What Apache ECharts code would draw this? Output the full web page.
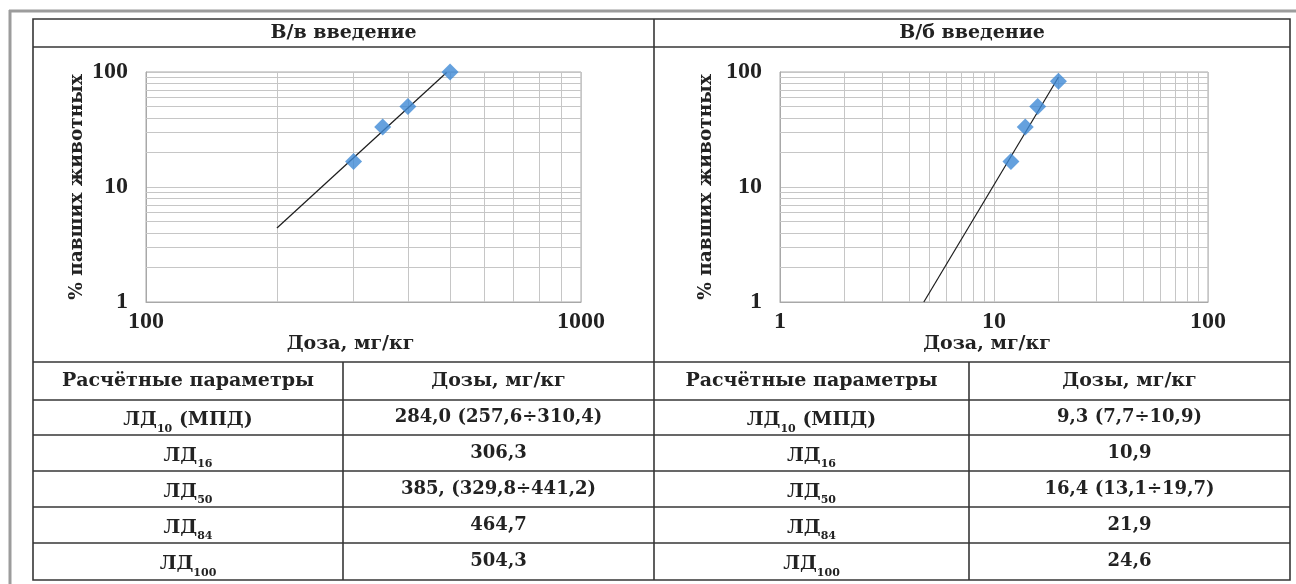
<!DOCTYPE html>
<html>
<head>
<meta charset="utf-8">
<script src="https://cdn.jsdelivr.net/npm/echarts@6/dist/echarts.min.js"></script>
<style>
html,body{margin:0;padding:0;background:#fff;}
#c{width:1296px;height:584px;}
</style>
</head>
<body>
<div id="c"></div>
<script>
// ---------------- DATA ----------------
const panelTitles = ['В/в введение', 'В/б введение'];
const yAxisName = '% павших животных';
const xAxisName = 'Доза, мг/кг';

// Intravenous (В/в)
const ivDose = [300, 350, 400, 500];
const ivDeath = [16.7, 33.3, 50, 100];
const ivTrendDose = [200, 491];
const ivTrendDeath = [4.4, 99];
const ivXRange = [100, 1000];
const ivXMinor = [200, 300, 400, 500, 600, 700, 800, 900];

// Intraperitoneal (В/б)
const ipDose = [12, 14, 16, 20];
const ipDeath = [16.7, 33.3, 50, 83.3];
const ipTrendDose = [4.7, 20];
const ipTrendDeath = [1, 90];
const ipXRange = [1, 100];
const ipXMinor = [2, 3, 4, 5, 6, 7, 8, 9, 20, 30, 40, 50, 60, 70, 80, 90];

const yRange = [1, 100];
const yMinor = [2, 3, 4, 5, 6, 7, 8, 9, 20, 30, 40, 50, 60, 70, 80, 90];

// Table
const tableHeaders = ['Расчётные параметры', 'Дозы, мг/кг'];
const paramBase = ['ЛД', 'ЛД', 'ЛД', 'ЛД', 'ЛД'];
const paramSub = ['10', '16', '50', '84', '100'];
const paramSuffix = [' (МПД)', '', '', '', ''];
const ivDoseTable = ['284,0 (257,6÷310,4)', '306,3', '385, (329,8÷441,2)', '464,7', '504,3'];
const ipDoseTable = ['9,3 (7,7÷10,9)', '10,9', '16,4 (13,1÷19,7)', '21,9', '24,6'];

// ---------------- LAYOUT / STYLE ----------------
const SERIF = '"DejaVu Serif", serif';
const TICKF = '"Liberation Serif", serif';
const TXT = '#222222';
const GRIDC = '#c6c6c6';
const LINEC = '#363636';

const grids = [
  {left: 146, top: 72, width: 435, height: 230},
  {left: 780, top: 72, width: 428, height: 230}
];
const nameGapsY = [59, 64];
const namePadX = [[0, 26, 0, 0], [0, 14, 0, 0]];

const T = {left: 33, top: 19, right: 1290, bottom: 580, mid: 654, titleBottom: 47};
const rowLines = [362, 400, 435, 471, 507, 543, 580];
const colDiv = [343, 969];

function pairs(xs, ys) { return xs.map((x, i) => [x, ys[i]]); }
function minorLines(xv, yv) {
  return xv.map(v => ({xAxis: v})).concat(yv.map(v => ({yAxis: v})));
}

function xAxisOpt(i, range) {
  return {
    gridIndex: i, type: 'log', logBase: 10, min: range[0], max: range[1],
    name: xAxisName, nameLocation: 'middle', nameGap: 24,
    nameTextStyle: {fontFamily: SERIF, fontWeight: 'bold', fontSize: 19, color: TXT, padding: namePadX[i]},
    axisLine: {show: true, lineStyle: {color: '#a8a8a8', width: 1}},
    axisTick: {show: false},
    axisLabel: {fontFamily: TICKF, fontWeight: 'bold', fontSize: 24, color: TXT, margin: 8,
                formatter: v => String(v)},
    splitLine: {show: true, lineStyle: {color: GRIDC, width: 1}}
  };
}
function yAxisOpt(i) {
  return {
    gridIndex: i, type: 'log', logBase: 10, min: yRange[0], max: yRange[1],
    name: yAxisName, nameLocation: 'middle', nameGap: nameGapsY[i],
    nameTextStyle: {fontFamily: SERIF, fontWeight: 'bold', fontSize: 18.5, color: TXT},
    axisLine: {show: true, lineStyle: {color: '#a8a8a8', width: 1}},
    axisTick: {show: false},
    axisLabel: {fontFamily: TICKF, fontWeight: 'bold', fontSize: 24, color: TXT, margin: 18,
                formatter: v => String(v)},
    splitLine: {show: true, lineStyle: {color: GRIDC, width: 1}}
  };
}
function seriesFor(i, dose, death, tDose, tDeath, xMinor) {
  return [
    {
      type: 'line', xAxisIndex: i, yAxisIndex: i, data: [], z: 1, silent: true,
      markLine: {
        silent: true, symbol: ['none', 'none'], z: 1, animation: false,
        label: {show: false},
        lineStyle: {color: GRIDC, width: 1, type: 'solid'},
        emphasis: {disabled: true},
        data: minorLines(xMinor, yMinor)
      }
    },
    {
      type: 'line', xAxisIndex: i, yAxisIndex: i, data: pairs(tDose, tDeath),
      showSymbol: false, symbol: 'none', z: 3, silent: true,
      lineStyle: {color: '#1c1c1c', width: 1.2}
    },
    {
      type: 'scatter', xAxisIndex: i, yAxisIndex: i, data: pairs(dose, death),
      symbol: 'diamond', symbolSize: 17, z: 4,
      itemStyle: {color: '#3f8ad6'}
    }
  ];
}

// ---------------- TABLE GRAPHICS ----------------
const g = [];
function hline(y, x1, x2, stroke, w) {
  g.push({type: 'line', shape: {x1: x1, y1: y, x2: x2, y2: y}, style: {stroke: stroke, lineWidth: w}, silent: true});
}
function vline(x, y1, y2, stroke, w) {
  g.push({type: 'line', shape: {x1: x, y1: y1, x2: x, y2: y2}, style: {stroke: stroke, lineWidth: w}, silent: true});
}
function text(str, x, y, size, rich) {
  const st = {
    text: str, x: x, y: y, fill: TXT,
    font: 'bold ' + size + 'px ' + SERIF,
    align: 'center', verticalAlign: 'middle',
    textAlign: 'center', textVerticalAlign: 'middle'
  };
  if (rich) st.rich = rich;
  g.push({type: 'text', style: st, silent: true});
}
// page frame
hline(11, 9, 1296, '#9c9c9c', 3);
vline(10, 10, 584, '#9c9c9c', 3);
// table frame
g.push({type: 'rect', shape: {x: T.left, y: T.top, width: T.right - T.left, height: T.bottom - T.top},
        style: {fill: 'none', stroke: LINEC, lineWidth: 1.6}, silent: true});
hline(T.titleBottom, T.left, T.right, LINEC, 1.6);
vline(T.mid, T.top, T.bottom, LINEC, 1.6);
rowLines.slice(0, -1).forEach(y => hline(y, T.left, T.right, LINEC, 1.6));
colDiv.forEach(x => vline(x, rowLines[0], T.bottom, LINEC, 1.6));

// titles
text(panelTitles[0], (T.left + T.mid) / 2, 33, 19);
text(panelTitles[1], (T.mid + T.right) / 2, 33, 19);

const cols = [
  [(T.left + colDiv[0]) / 2, (colDiv[0] + T.mid) / 2, ivDoseTable],
  [(T.mid + colDiv[1]) / 2, (colDiv[1] + T.right) / 2, ipDoseTable]
];
const rich = {
  m: {font: 'bold 19px ' + SERIF, fill: TXT, lineHeight: 28},
  s: {font: 'bold 11px ' + SERIF, fill: TXT, lineHeight: 10, verticalAlign: 'bottom', textVerticalAlign: 'bottom'}
};
cols.forEach(c => {
  const hy = (rowLines[0] + rowLines[1]) / 2;
  text(tableHeaders[0], c[0], hy, 19);
  text(tableHeaders[1], c[1], hy, 19);
  for (let r = 0; r < paramBase.length; r++) {
    const cy = (rowLines[r + 1] + rowLines[r + 2]) / 2;
    let s = '{m|' + paramBase[r] + '}{s|' + paramSub[r] + '}';
    if (paramSuffix[r]) s += '{m|' + paramSuffix[r] + '}';
    text(s, c[0], cy + 3, 19, rich);
    text(c[2][r], c[1], cy, 18);
  }
});

// ---------------- CHART ----------------
const chart = echarts.init(document.getElementById('c'), null, {renderer: 'canvas'});
chart.setOption({
  backgroundColor: '#ffffff',
  animation: false,
  grid: grids.map(gr => Object.assign({show: true, borderColor: '#a8a8a8', borderWidth: 1, containLabel: false, outerBoundsMode: 'none'}, gr)),
  xAxis: [xAxisOpt(0, ivXRange), xAxisOpt(1, ipXRange)],
  yAxis: [yAxisOpt(0), yAxisOpt(1)],
  series: seriesFor(0, ivDose, ivDeath, ivTrendDose, ivTrendDeath, ivXMinor)
    .concat(seriesFor(1, ipDose, ipDeath, ipTrendDose, ipTrendDeath, ipXMinor)),
  graphic: g
});
</script>
</body>
</html>
